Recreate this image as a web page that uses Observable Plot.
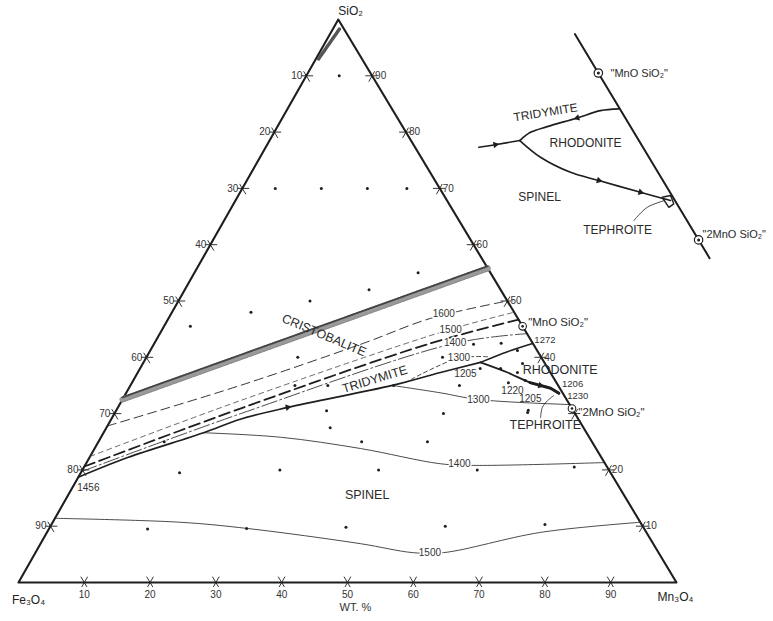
<!DOCTYPE html>
<html><head><meta charset="utf-8">
<script src="https://cdn.jsdelivr.net/npm/d3@7"></script>
<script src="https://cdn.jsdelivr.net/npm/@observablehq/plot@0.6"></script>
<style>body{margin:0;background:#fff}</style>
</head><body><div id="chart"></div>
<script>
// ===== DATA: compositions as [wt% Mn3O4, wt% SiO2] (Fe3O4 = remainder) =====
const tickValues = [10, 20, 30, 40, 50, 60, 70, 80, 90];
const hiddenRightLabels = [30];          // covered by the "2MnO SiO2" label in the original
const vertexNames = ["Fe₃O₄", "Mn₃O₄", "SiO₂"];
const axisTitle = "WT. %";

const samplePoints = [
  [5,90],[5,70],[12,70],[19,70],[25,70],[34,55],[28,52],[20,50],[12,48],[4,45.5],
  [23,40],[10,25],[25,35],[30,35],[40,35],[32,30.5],[34,27.5],[40,25],[50,25],[50,30],
  [45,40],[48.6,42.3],[62.7,30.2],[15,19.5],[30,20],[45,20],[60,20],[74.5,20.5],
  [15,9.5],[30,9.6],[45,9.8],[60,10],[75,10.3],
  [52.7,42.5],[55.8,41.2],[51.7,38],[54.8,38],[57.7,37.3],[57.2,35.5],[59.6,35.9],
  [50,35],[62.6,30.6],[57.7,38.9]
];

const liquidGap = [[0,32.5],[44.2,55.8]];
const apexGap = [[1,98.3],[0.4,93]];

const iso1600 = [[0,27.8],[16.7,35.0],[31.8,42.5],[39.8,46.9],[50,50]];
const iso1500 = [[0,22.4],[18.0,32.3],[43.4,44.8],[52,48]];
const heavyDashed = [[0,20.6],[18.7,30.9],[42.0,42.5],[53.3,46.7]];
const iso1400 = [[0,19.7],[19.2,30.0],[45.7,42.5],[55.8,44.2]];
const iso1300 = [[41.5,35.5],[47.4,39.8],[51.8,40.1]];

const tridymiteSpinel = [[0,18.7],[5.8,22.2],[15.2,26.6],[19.6,29.0],[25.8,31.1],[39.8,35.0],[46.0,37.3],[51.2,39.1]];
const tridymiteRhodonite = [[51.2,39.1],[54.4,41.0],[57.5,42.45]];
const rhodoniteSpinel = [[51.2,39.1],[56.2,37.3],[60.5,35.5],[64.1,34.5],[65.8,33.6]];

const spinel1300 = [[39.8,35.0],[47.7,33.7],[54.1,32.5],[68.5,31.6]];
const spinel1400 = [[15.2,26.6],[27.3,25.8],[40.4,23.8],[53.8,21.1],[59.0,20.8],[78.7,21.3]];
const spinel1500 = [[0,11.4],[19.4,10.7],[30.1,9.6],[48.6,6.9],[57.4,5.3],[62.0,5.3],[75.0,8.9],[89.3,10.7]];
const tephroitePointer = [[65.1,29.3],[64.5,31.1],[64.7,32.3],[65.2,33.2]];

const compoundNames = ['"MnO SiO₂"', '"2MnO SiO₂"'];
const compoundComps = [[54.5,45.5],[69.1,30.9]];
const compoundLabelAt = [[55.0,46.2],[70.4,30.2]];

const mainArrows = [ {at:[25.8,31.1], to:[39.8,35.0]}, {at:[62.3,35.0], to:[64.1,34.5]} ];

const fieldNames = ["CRISTOBALITE","TRIDYMITE","SPINEL","RHODONITE","TEPHROITE"];
const fieldAt = [[25.1,43.9],[36.6,36.1],[45.4,15.6],[64.0,37.7],[66.5,27.9]];

const isoLabelText = ["1600","1500","1400","1300","1300","1400","1500"];
const isoLabelAt = [[41.4,47.8],[43.9,44.8],[45.7,42.5],[47.5,40.0],[54.1,32.5],[56.8,21.0],[60.0,5.2]];
const innerTempText = ["1205","1220","1205","1456"];
const innerTempAt = [[49.9,37.1],[58.5,34.1],[61.9,32.7],[2.4,16.9]];
const edgeTempText = ["1272","1206","1230"];
const edgeTempAt = [[57.5,43.0],[65.5,35.2],[67.3,33.1]];

// Inset (enlarged rhodonite corner)
const insetJoin = [[51.1,48.9],[70.7,29.3]];
const insetTR = [[57.55,42.36],[56.26,42.21],[54.83,41.57],[52.95,40.81],[51.94,40.31],[51.49,39.59]];
const insetIn = [[48.71,39.0],[49.84,39.23],[51.49,39.59]];
const insetRS = [[51.49,39.59],[53.75,38.13],[56.64,36.81],[59.11,36.09],[62.73,35.06],[64.75,34.49],[65.33,34.34]];
const insetLoop = [[64.56,34.63],[65.12,34.78],[65.71,34.05],[65.49,33.75],[64.56,34.63]];
const insetPointer = [[63.43,32.59],[63.87,33.75],[64.88,34.34]];
const insetArrows = [ {at:[54.83,41.57], to:[52.95,40.81]}, {at:[49.84,39.23], to:[51.49,39.59]},
                      {at:[59.11,36.09], to:[62.73,35.06]}, {at:[62.73,35.06], to:[64.75,34.49]} ];
const insetFieldNames = ["TRIDYMITE","RHODONITE","SPINEL","TEPHROITE"];
const insetFieldAt = [[52.23,42.04],[56.54,39.33],[55.39,34.6],[62.64,31.71]];
const insetCompoundLabelAt = [[55.43,45.46],[69.17,31.36]];

// ===== GEOMETRY =====
const K = 0.486;                  // apex offset of the scanned (slightly sheared) triangle
const tx = d => d[0] + K * d[1];
const ty = d => d[1];
const MAG = 2.03, OX = -67.4, OY = -1.87;   // inset enlargement
const ix = d => MAG * tx(d) + OX;
const iy = d => MAG * ty(d) + OY;

const xDef = {domain: [0, 100], range: [18, 676]};
const yDef = {domain: [0, 100], range: [582, 19]};
const sx = Plot.scale({x: xDef}), sy = Plot.scale({y: yDef});
const angle = (fx, fy, a, b) =>
  Math.atan2(sy.apply(fy(b)) - sy.apply(fy(a)), sx.apply(fx(b)) - sx.apply(fx(a))) * 180 / Math.PI + 90;

// tick crosses
const H = 0.8;
const ticks = [];
for (const v of tickValues) {
  const sets = [
    {p:[v,0], d:[[0,1],[-1,1]]},
    {p:[0,100-v], d:[[1,0],[1,-1]]},
    {p:[100-v,v], d:[[0,-1],[-1,0]]}
  ];
  for (const s of sets) for (const d of s.d)
    ticks.push({a:[s.p[0]-H*d[0], s.p[1]-H*d[1]], b:[s.p[0]+1.3*H*d[0], s.p[1]+1.3*H*d[1]]});
}
const tickLabels = [];
for (const v of tickValues) {
  tickLabels.push({p:[v,0], t:String(v), side:"b"});
  tickLabels.push({p:[0,100-v], t:String(v), side:"l"});
  if (!hiddenRightLabels.includes(v)) tickLabels.push({p:[100-v,v], t:String(v), side:"r"});
}

const ink = "#1e1e1e";
const font = "Liberation Sans, Arial, sans-serif";
const ln = (data, o = {}) => Plot.line(data, {x: tx, y: ty, stroke: ink, curve: "catmull-rom", ...o});
const iln = (data, o = {}) => Plot.line(data, {x: ix, y: iy, stroke: ink, curve: "catmull-rom", ...o});
const idx = a => a.map((_, i) => i);
const vtx = [[0,0],[100,0],[0,100]];

const chart = Plot.plot({
  width: 773, height: 621, margin: 0,
  x: {...xDef, axis: null}, y: {...yDef, axis: null},
  style: {fontFamily: font, background: "white", color: ink},
  marks: [
    // triangle
    Plot.line([[0,0],[100,0],[0,100],[0,0]], {x: tx, y: ty, stroke: ink, strokeWidth: 2.1}),
    Plot.link(ticks, {x1: d => tx(d.a), y1: d => ty(d.a), x2: d => tx(d.b), y2: d => ty(d.b), stroke: ink, strokeWidth: 0.9}),
    Plot.text(tickLabels.filter(d => d.side === "b"), {x: d => tx(d.p), y: d => ty(d.p), text: "t", dy: 12, fontSize: 10, fill: "#333"}),
    Plot.text(tickLabels.filter(d => d.side === "l"), {x: d => tx(d.p), y: d => ty(d.p), text: "t", dx: -4, textAnchor: "end", fontSize: 10, fill: "#333"}),
    Plot.text(tickLabels.filter(d => d.side === "r"), {x: d => tx(d.p), y: d => ty(d.p), text: "t", dx: 3, textAnchor: "start", fontSize: 10, fill: "#333"}),

    // two-liquid band (stippled)
    ln(liquidGap, {stroke: "#9a9a9a", strokeWidth: 6, strokeDasharray: "1.2 0.8", curve: "linear"}),
    ln(liquidGap, {stroke: "#444", strokeWidth: 1.8, strokeDasharray: "2 1", dy: -2.2, curve: "linear"}),
    ln(liquidGap, {stroke: "#888", strokeWidth: 1, strokeDasharray: "1 1.5", dy: 2.5, curve: "linear"}),
    ln(apexGap, {stroke: "#555", strokeWidth: 3.5, strokeDasharray: "1.2 1", curve: "linear"}),

    // isotherms in silica field
    ln(iso1600, {strokeWidth: 0.9, strokeDasharray: "9 5"}),
    ln(iso1500, {strokeWidth: 0.8, strokeDasharray: "5 4", stroke: "#444"}),
    ln(heavyDashed, {strokeWidth: 1.8, strokeDasharray: "11 5"}),
    ln(iso1400, {strokeWidth: 0.8, strokeDasharray: "16 3 2 3"}),
    ln(iso1300, {strokeWidth: 0.8, strokeDasharray: "4 3"}),

    // boundary curves
    ln(tridymiteSpinel, {strokeWidth: 1.7}),
    ln(tridymiteRhodonite, {strokeWidth: 1.5}),
    ln(rhodoniteSpinel, {strokeWidth: 1.8}),
    ln(rhodoniteSpinel.slice(2), {strokeWidth: 3, curve: "linear"}),

    // spinel field isotherms
    ln(spinel1300, {strokeWidth: 0.8}),
    ln(spinel1400, {strokeWidth: 0.8}),
    ln(spinel1500, {strokeWidth: 0.8}),
    ln(tephroitePointer, {strokeWidth: 0.8}),

    // data points
    Plot.dot(samplePoints, {x: tx, y: ty, r: 1.5, fill: ink}),
    Plot.dot(compoundComps, {x: tx, y: ty, r: 3.8, stroke: ink, fill: "white", strokeWidth: 1.1}),
    Plot.dot(compoundComps, {x: tx, y: ty, r: 1.3, fill: ink}),
    Plot.dot(mainArrows, {x: d => tx(d.at), y: d => ty(d.at), symbol: "triangle2", r: 3.2, fill: ink,
      rotate: d => angle(tx, ty, d.at, d.to)}),

    // vertex labels and axis title
    Plot.text([vertexNames[0]], {x: tx(vtx[0]), y: ty(vtx[0]), text: d => d, dx: 10, dy: 18, fontSize: 12, fill: "#222"}),
    Plot.text([vertexNames[1]], {x: tx(vtx[1]), y: ty(vtx[1]), text: d => d, dx: -1, dy: 15, fontSize: 12, fill: "#222"}),
    Plot.text([vertexNames[2]], {x: tx(vtx[2]), y: ty(vtx[2]), text: d => d, dy: -8, textAnchor: "start", fontSize: 12, fill: "#222"}),
    Plot.text([axisTitle], {x: tx([51.2, 0]), y: 0, text: d => d, dy: 25, fontSize: 11, fill: "#333"}),

    // field names and temperatures
    ...fieldNames.map((t, i) => Plot.text([t], {x: tx(fieldAt[i]), y: ty(fieldAt[i]), text: d => d,
      rotate: [23, -17, 0, 0, 0][i], fontSize: 12.5, fill: "#2a2a2a"})),
    Plot.text(idx(isoLabelText), {x: i => tx(isoLabelAt[i]), y: i => ty(isoLabelAt[i]), text: i => isoLabelText[i],
      fontSize: 10, fill: "#333", stroke: "white", strokeWidth: 3, paintOrder: "stroke"}),
    Plot.text(idx(innerTempText), {x: i => tx(innerTempAt[i]), y: i => ty(innerTempAt[i]), text: i => innerTempText[i], fontSize: 10, fill: "#333"}),
    Plot.text(idx(edgeTempText), {x: i => tx(edgeTempAt[i]), y: i => ty(edgeTempAt[i]), text: i => edgeTempText[i],
      textAnchor: "start", fontSize: 9.5, fill: "#333"}),
    Plot.text(idx(compoundNames), {x: i => tx(compoundLabelAt[i]), y: i => ty(compoundLabelAt[i]), text: i => compoundNames[i],
      textAnchor: "start", fontSize: 11.5, fill: "#2a2a2a"}),

    // ===== inset =====
    iln(insetJoin, {strokeWidth: 2, curve: "linear"}),
    iln(insetTR, {strokeWidth: 1.6}),
    iln(insetIn, {strokeWidth: 1.6}),
    iln(insetRS, {strokeWidth: 1.6}),
    iln(insetLoop, {strokeWidth: 1.4, curve: "linear"}),
    iln(insetPointer, {strokeWidth: 0.8}),
    Plot.dot(compoundComps, {x: ix, y: iy, r: 4.2, stroke: ink, fill: "white", strokeWidth: 1.2}),
    Plot.dot(compoundComps, {x: ix, y: iy, r: 1.5, fill: ink}),
    Plot.dot(insetArrows, {x: d => ix(d.at), y: d => iy(d.at), symbol: "triangle2", r: 3.2, fill: ink,
      rotate: d => angle(ix, iy, d.at, d.to)}),
    ...insetFieldNames.map((t, i) => Plot.text([t], {x: ix(insetFieldAt[i]), y: iy(insetFieldAt[i]), text: d => d,
      rotate: [-9, 0, 0, 0][i], fontSize: 12, fill: "#2a2a2a"})),
    Plot.text(idx(compoundNames), {x: i => ix(insetCompoundLabelAt[i]), y: i => iy(insetCompoundLabelAt[i]), text: i => compoundNames[i],
      textAnchor: "start", fontSize: 11, fill: "#2a2a2a"})
  ]
});
document.getElementById("chart").appendChild(chart);
</script>
</body></html>
